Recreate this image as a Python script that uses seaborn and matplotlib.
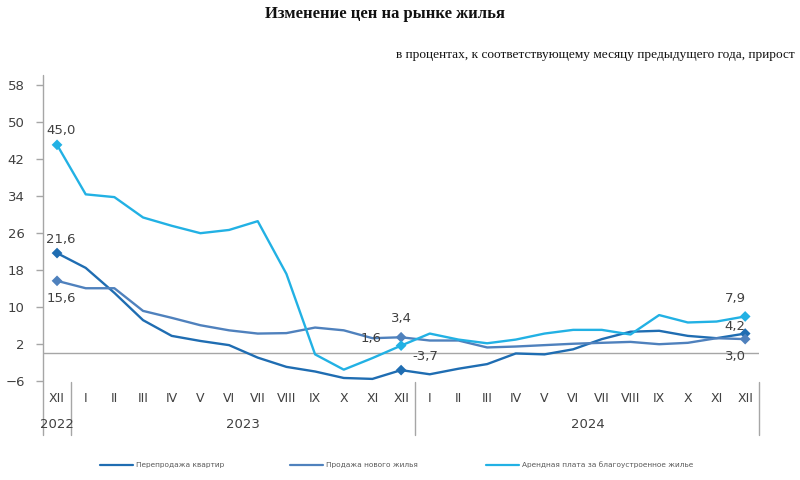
import numpy as np
import pandas as pd
import matplotlib
matplotlib.use("Agg")
import matplotlib.pyplot as plt
import matplotlib.transforms as mtransforms
from matplotlib.lines import Line2D
import seaborn as sns

months = ["XII", "I", "II", "III", "IV", "V", "VI", "VII", "VIII", "IX", "X", "XI", "XII",
          "I", "II", "III", "IV", "V", "VI", "VII", "VIII", "IX", "X", "XI", "XII"]
years = ["2022", "2023", "2024"]

resale = [21.6, 18.4, 13.0, 7.1, 3.7, 2.6, 1.7, -1.0, -3.0, -4.0, -5.4, -5.6, -3.7,
          -4.6, -3.4, -2.4, -0.1, -0.3, 0.8, 3.0, 4.6, 4.8, 3.7, 3.2, 4.2]
new_housing = [15.6, 14.0, 14.0, 9.1, 7.6, 6.0, 4.9, 4.2, 4.3, 5.5, 4.9, 3.2, 3.4,
               2.7, 2.7, 1.2, 1.4, 1.7, 2.0, 2.2, 2.4, 1.9, 2.2, 3.2, 3.0]
rent = [45.0, 34.3, 33.7, 29.3, 27.5, 25.9, 26.6, 28.5, 17.1, -0.3, -3.6, -1.1, 1.6,
        4.2, 2.9, 2.1, 2.9, 4.2, 5.0, 5.0, 4.0, 8.2, 6.6, 6.8, 7.9]

names = ["Перепродажа квартир", "Продажа нового жилья", "Арендная плата за благоустроенное жилье"]
colors = ["#1f6db2", "#4f81bd", "#22b1e4"]

n = len(months)
df = pd.DataFrame({
    "idx": list(range(n)) * 3,
    "value": resale + new_housing + rent,
    "series": [names[0]] * n + [names[1]] * n + [names[2]] * n,
})

sns.set_style("white")
plt.rcParams["font.family"] = ["DejaVu Sans"]

fig = plt.figure(figsize=(8, 4.8), dpi=100)
ax = fig.add_axes([42.7 / 800, 98 / 480, (759.5 - 42.7) / 800, (382 - 75) / 480])

palette = dict(zip(names, colors))
sns.lineplot(data=df, x="idx", y="value", hue="series", palette=palette,
             linewidth=1.7, legend=False, ax=ax)

# markers at labelled points
mk_idx = [0, 12, 24]
mdf = df[df["idx"].isin(mk_idx)]
sns.scatterplot(data=mdf, x="idx", y="value", hue="series", palette=palette,
                marker="D", s=30, edgecolor="none", legend=False, ax=ax, zorder=5)

ax.axhline(0, color="#a6a6a6", lw=1.0, zorder=1)
ax.set_xlim(-0.5, n - 0.5)
ax.set_ylim(-6.27, 60.1)
ax.set_yticks(np.arange(-6, 59, 8))
ax.set_xticks(range(n))
ax.set_xticklabels(months)
ax.set_xlabel("")
ax.set_ylabel("")
ax.tick_params(axis="y", direction="out", length=5, width=1, color="#a6a6a6",
               labelsize=9.5, labelcolor="#404040", pad=8, left=True)
ax.tick_params(axis="x", length=0, labelsize=9, labelcolor="#404040", pad=7.5)
for s in ["top", "right", "bottom", "left"]:
    ax.spines[s].set_visible(False)

trans = mtransforms.blended_transform_factory(ax.transData, ax.transAxes)
ybot = -(435 - 382) / (382 - 75)
ax.plot([-0.5, -0.5], [ybot, 1.0], transform=trans, color="#a6a6a6", lw=1.0, clip_on=False)
for xs in [0.5, 12.5, 24.5]:
    ax.plot([xs, xs], [ybot, 0.0], transform=trans, color="#a6a6a6", lw=1.0, clip_on=False)

yyear = -(425 - 382) / (382 - 75)
for x, yl in zip([0, 6.5, 18.5], years):
    ax.text(x, yyear, yl, transform=trans, ha="center", va="center",
            fontsize=9.5, color="#404040", clip_on=False)

# data labels
lab_kw = dict(fontsize=9.5, color="#404040", ha="center", va="center")
ax.annotate("45,0", (0, rent[0]), xytext=(4, 14), textcoords="offset pixels", **lab_kw)
ax.annotate("21,6", (0, resale[0]), xytext=(4, 14), textcoords="offset pixels", **lab_kw)
ax.annotate("15,6", (0, new_housing[0]), xytext=(4, -18), textcoords="offset pixels", **lab_kw)
ax.annotate("3,4", (12, new_housing[12]), xytext=(0, 19), textcoords="offset pixels", **lab_kw)
ax.annotate("1,6", (12, rent[12]), xytext=(-30, 7), textcoords="offset pixels", **lab_kw)
ax.annotate("-3,7", (12, resale[12]), xytext=(24, 14), textcoords="offset pixels", **lab_kw)
ax.annotate("7,9", (24, rent[24]), xytext=(-10, 18), textcoords="offset pixels", **lab_kw)
ax.annotate("4,2", (24, resale[24]), xytext=(-10, 7), textcoords="offset pixels", **lab_kw)
ax.annotate("3,0", (24, new_housing[24]), xytext=(-10, -17), textcoords="offset pixels", **lab_kw)

# titles
fig.text(385 / 800, 1 - 14 / 480, "Изменение цен на рынке жилья", ha="center", va="center",
         fontsize=12, fontweight="bold", family="Liberation Serif", color="#111111")
fig.text(795 / 800, 1 - 55 / 480, "в процентах, к соответствующему месяцу предыдущего года, прирост",
         ha="right", va="center", fontsize=9.6, family="Liberation Serif", color="#111111")

# legend
leg_y = 1 - 465 / 480
leg_items = [(99.5, 132.7, 136), (289.5, 322.7, 326), (485.8, 519, 522)]
for (x0, x1, xt), nm, c in zip(leg_items, names, colors):
    fig.add_artist(Line2D([x0 / 800, x1 / 800], [leg_y, leg_y], transform=fig.transFigure,
                          color=c, lw=1.6))
    fig.text(xt / 800, leg_y, nm, ha="left", va="center", fontsize=5.3, color="#595959")

fig.savefig("out.png", dpi=100)
